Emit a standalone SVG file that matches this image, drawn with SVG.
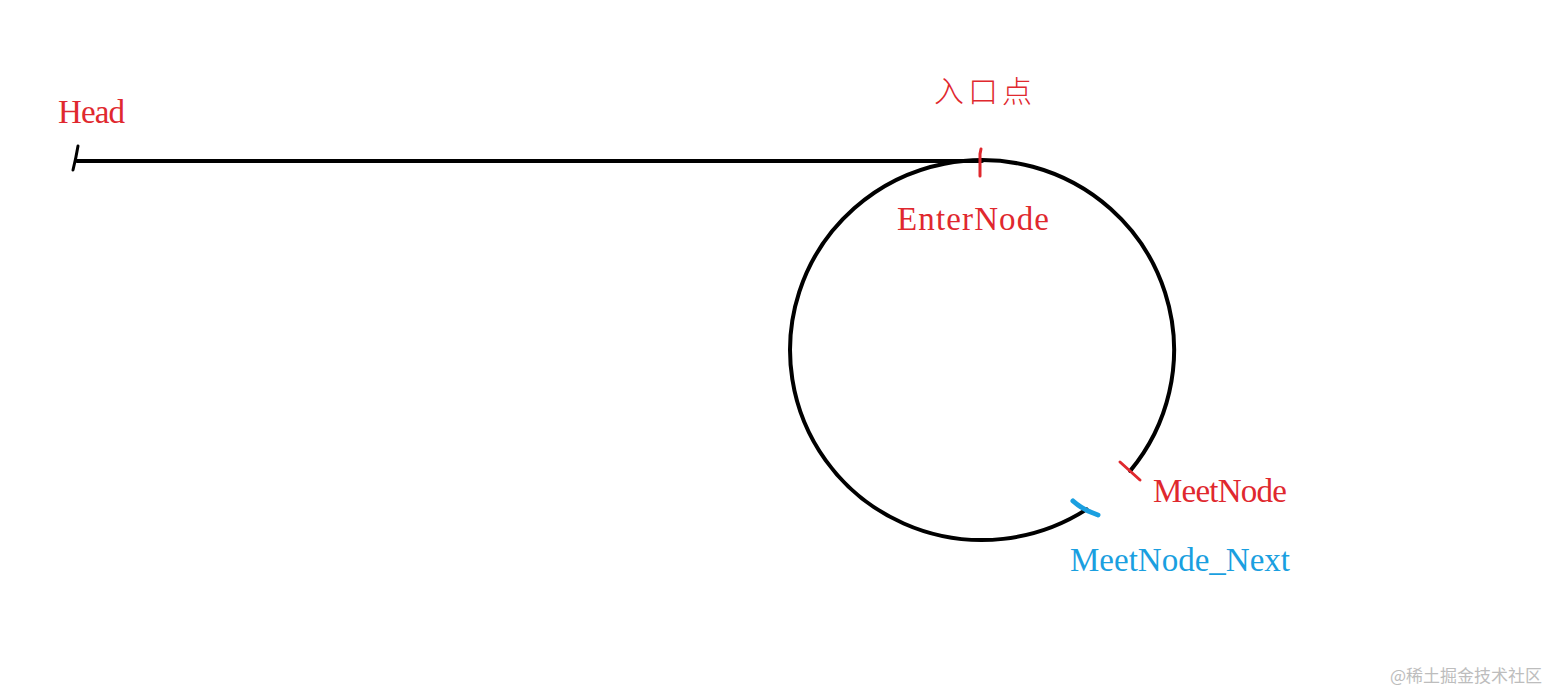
<svg xmlns="http://www.w3.org/2000/svg" width="1557" height="692" viewBox="0 0 1557 692">
<style>
.lbl{font-family:"Liberation Serif","Noto Sans CJK SC",serif;font-size:33px}
.red{fill:#e0282e}
.blue{fill:#1a9fe0}
.stroke{fill:none;stroke:#000;stroke-width:4;stroke-linecap:round}
</style>
<rect width="1557" height="692" fill="#fff"/>
<g id="connectors">
<path class="stroke" d="M 77 161 L 982 161"/>
<path class="stroke" d="M 1130.2 470.9 A 192 190 0 1 0 1086.6 509.4"/>
</g>
<g id="head">
<path d="M 78 146 Q 76 158 73 170" fill="none" stroke="#000" stroke-width="3" stroke-linecap="round"/>
<text class="lbl red" x="58" y="123" textLength="67" lengthAdjust="spacing">Head</text>
</g>
<g id="enter">
<path d="M 981 149 L 980 154 L 980 176" fill="none" stroke="#e0282e" stroke-width="3" stroke-linecap="round"/>
<text x="934" y="102" style="font-family:'Noto Sans CJK SC',sans-serif;font-size:30px;font-weight:300" class="red" textLength="98">入口点</text>
<text class="lbl red" x="897" y="230" textLength="152" lengthAdjust="spacing">EnterNode</text>
</g>
<g id="meet">
<path d="M 1120 462 L 1140 480" fill="none" stroke="#e0282e" stroke-width="3" stroke-linecap="round"/>
<text class="lbl red" x="1153" y="502" textLength="134" lengthAdjust="spacing">MeetNode</text>
</g>
<g id="meetnext">
<path d="M 1073 501 Q 1083 510 1098 515" fill="none" stroke="#1a9fe0" stroke-width="5" stroke-linecap="round"/>
<text class="lbl blue" x="1070" y="571" textLength="220" lengthAdjust="spacing">MeetNode_Next</text>
</g>
<text x="1390" y="682" style="font-family:'Noto Sans CJK SC',sans-serif;font-size:17px;fill:#bdbdbd">@稀土掘金技术社区</text>
</svg>
